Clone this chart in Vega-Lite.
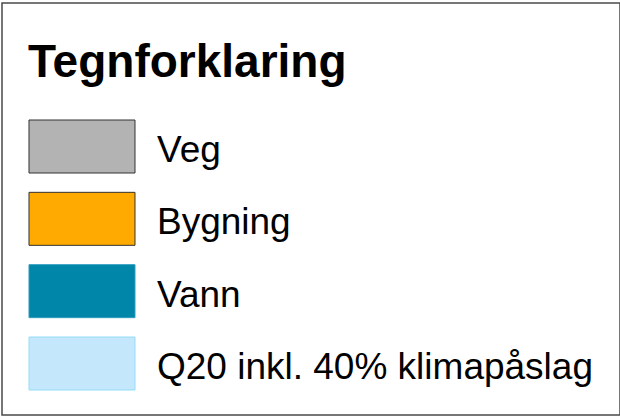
{
  "$schema": "https://vega.github.io/schema/vega-lite/v6.json",
  "width": 618,
  "height": 412,
  "autosize": "none",
  "padding": {"left": 2, "top": 3, "right": 0, "bottom": 2},
  "background": "white",
  "config": {"view": {"stroke": "#4a4a4a", "strokeWidth": 1.5}},
  "datasets": {
    "items": [
      {"row": 1, "label": "Veg"},
      {"row": 2, "label": "Bygning"},
      {"row": 3, "label": "Vann"},
      {"row": 4, "label": "Q20 inkl. 40% klimapåslag"}
    ],
    "heading": [
      {"row": 0, "title": "Tegnforklaring"}
    ]
  },
  "layer": [
    {
      "data": {"name": "items"},
      "mark": {"type": "rect", "height": 53, "strokeWidth": 1},
      "encoding": {
        "x": {"datum": 0, "type": "quantitative", "scale": {"domain": [-0.2547, 5.5755], "nice": false, "zero": false}, "axis": null},
        "x2": {"datum": 1},
        "y": {"field": "row", "type": "quantitative", "scale": {"domain": [-0.984, 4.712], "reverse": true, "nice": false, "zero": false}, "axis": null},
        "fill": {
          "field": "label", "type": "nominal", "legend": null,
          "scale": {"domain": ["Veg", "Bygning", "Vann", "Q20 inkl. 40% klimapåslag"], "range": ["#b3b3b3", "#ffaa00", "#0086a9", "#c4e7fc"]}
        },
        "stroke": {
          "field": "label", "type": "nominal", "legend": null,
          "scale": {"domain": ["Veg", "Bygning", "Vann", "Q20 inkl. 40% klimapåslag"], "range": ["#333333", "#333333", "#2f9cbf", "#94dcf7"]}
        }
      }
    },
    {
      "data": {"name": "items"},
      "mark": {"type": "text", "align": "left", "baseline": "alphabetic", "dy": 15.5, "font": "Liberation Sans", "fontSize": 37, "color": "#000000"},
      "encoding": {
        "x": {"datum": 1.2075, "type": "quantitative"},
        "y": {"field": "row", "type": "quantitative"},
        "text": {"field": "label", "type": "nominal"}
      }
    },
    {
      "data": {"name": "heading"},
      "mark": {"type": "text", "align": "left", "baseline": "alphabetic", "dy": 3, "font": "Liberation Sans", "fontWeight": "bold", "fontSize": 46, "color": "#000000"},
      "encoding": {
        "x": {"datum": -0.01, "type": "quantitative"},
        "y": {"field": "row", "type": "quantitative"},
        "text": {"field": "title", "type": "nominal"}
      }
    }
  ]
}
